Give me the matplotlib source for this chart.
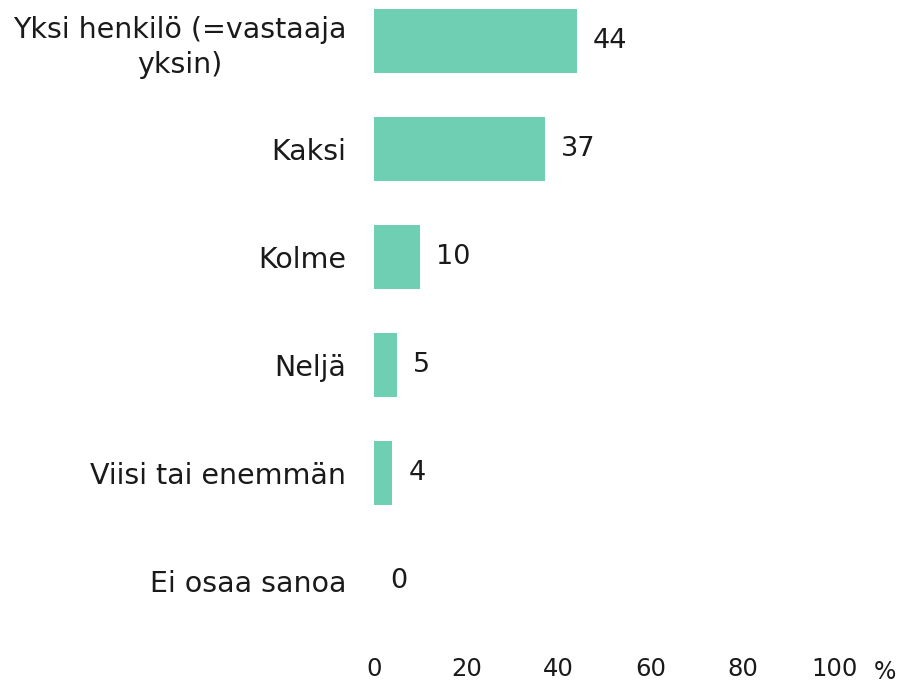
import matplotlib
matplotlib.use("Agg")
import matplotlib.pyplot as plt

categories = ["Yksi henkilö (=vastaaja\nyksin)", "Kaksi", "Kolme", "Neljä", "Viisi tai enemmän", "Ei osaa sanoa"]
values = [44, 37, 10, 5, 4, 0]
xticks = [0, 20, 40, 60, 80, 100]

plt.rcParams['font.family'] = ['DejaVu Sans']

W, H = 903, 686
fig = plt.figure(figsize=(W/100, H/100), dpi=100)
ax_left, ax_right = 374, 835
ax_top, ax_bottom = 0, 640
ax = fig.add_axes([ax_left/W, 1 - ax_bottom/H, (ax_right-ax_left)/W, (ax_bottom-ax_top)/H])

ypos = list(range(len(categories)))
ax.barh(ypos, values, height=0.6, color="#6fcfb2")
ax.set_xlim(0, 100)
ax.set_ylim((640-41)/108, -41/108)
ax.set_yticks(ypos)
ax.set_yticklabels(categories, fontsize=20.5, color="#1a1a1a", ha="right",
                   multialignment="center", linespacing=1.3)
ax.set_xticks(xticks)
ax.set_xticklabels([str(t) for t in xticks], fontsize=17.5, color="#1a1a1a")
ax.tick_params(axis="y", length=0, pad=20)
ax.tick_params(axis="x", length=0, pad=12)
for s in ax.spines.values():
    s.set_visible(False)

for y, v in zip(ypos, values):
    ax.annotate(str(v), (v, y), xytext=(16, 0), textcoords="offset pixels",
                va="center", ha="left", fontsize=19.5, color="#1a1a1a")

fig.text(885/W, 1 - 672/H, "%", fontsize=17, ha="center", va="center", color="#1a1a1a")

fig.savefig("out.png", dpi=100)
